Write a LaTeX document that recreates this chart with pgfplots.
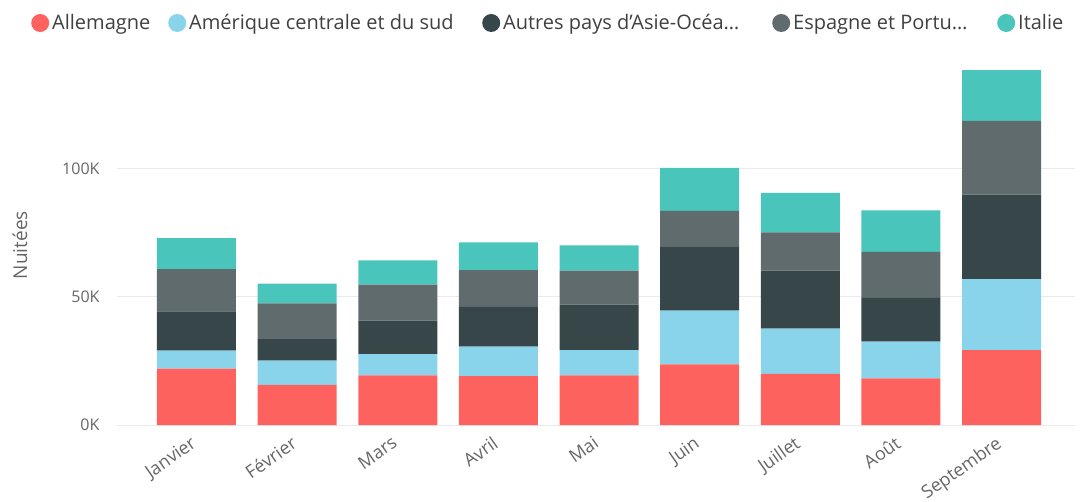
\documentclass[border=0pt]{standalone}
\usepackage{pgfplots}
\pgfplotsset{compat=1.18}
\usepackage{fontspec}
\setmainfont{Open Sans}
\definecolor{cA}{HTML}{FD625E}
\definecolor{cB}{HTML}{8AD4EB}
\definecolor{cC}{HTML}{374649}
\definecolor{cD}{HTML}{5F6B6D}
\definecolor{cE}{HTML}{4AC5BB}
\definecolor{txt}{HTML}{666666}
\definecolor{grid}{HTML}{EAEAEA}
\pgfplotstableread{
x A B C D E
0 22.0 7.0 15.3 16.5 12.1
1 15.6 9.5 8.4 13.9 7.7
2 19.4 8.2 13.1 14.0 9.5
3 19.1 11.5 15.5 14.3 10.8
4 19.4 9.8 17.7 13.3 9.8
5 23.6 21.0 24.8 14.1 16.8
6 19.9 17.7 22.6 14.9 15.4
7 18.2 14.3 17.1 17.9 16.2
8 29.2 27.7 32.9 28.8 19.8
}\data
\begin{document}
\begin{tikzpicture}[x=1pt,y=1pt]
\path[use as bounding box] (0,0) rectangle (1089,501);
\begin{axis}[
  at={(117pt,76pt)}, anchor=south west,
  width=958pt, height=359pt, scale only axis,
  ybar stacked, bar width=79pt,
  xmin=-0.79, xmax=8.73, ymin=0, ymax=140,
  xtick={0,...,8},
  xticklabels={Janvier,Février,Mars,Avril,Mai,Juin,Juillet,Août,Septembre},
  x tick label style={rotate=35, anchor=north east, font=\fontsize{18}{21}\selectfont, text=txt, xshift=-8pt, yshift=-1pt},
  ytick={0,50,100}, yticklabels={0K,50K,100K},
  y tick label style={font=\fontsize{16}{19}\selectfont, text=txt, xshift=-14pt},
  ymajorgrids, grid style={color=grid, line width=1pt},
  axis line style={draw=none}, major tick length=0pt,
  ylabel={Nuitées},
  ylabel style={at={(axis description cs:-0.1013,0.501)}, anchor=center, rotate=0, font=\fontsize{19}{22}\selectfont, text=txt},
  legend columns=5,
  legend style={at={(-0.0929,1.1198)}, anchor=west, draw=none, fill=none,
    font=\fontsize{20}{24}\selectfont, text=black!75,
    nodes={inner sep=0pt},
    /tikz/every even column/.style={column sep=0pt},
    /tikz/every odd column/.style={column sep=0pt}},
  legend image code/.code={\fill[#1] (9pt,0pt) circle (9pt);},
]
\addplot[fill=cA, draw=none] table[x=x,y=A]{\data};
\addlegendentry{\hspace{3pt}\makebox[116pt][l]{Allemagne}}
\addplot[fill=cB, draw=none] table[x=x,y=B]{\data};
\addlegendentry{\hspace{3pt}\makebox[293pt][l]{Amérique centrale et du sud}}
\addplot[fill=cC, draw=none] table[x=x,y=C]{\data};
\addlegendentry{\hspace{3pt}\makebox[269pt][l]{Autres pays d'Asie-Océa\ldots}}
\addplot[fill=cD, draw=none] table[x=x,y=D]{\data};
\addlegendentry{\hspace{3pt}\makebox[204pt][l]{Espagne et Portu\ldots}}
\addplot[fill=cE, draw=none] table[x=x,y=E]{\data};
\addlegendentry{\hspace{3pt}\makebox[50pt][l]{Italie}}
\end{axis}
\end{tikzpicture}
\end{document}
